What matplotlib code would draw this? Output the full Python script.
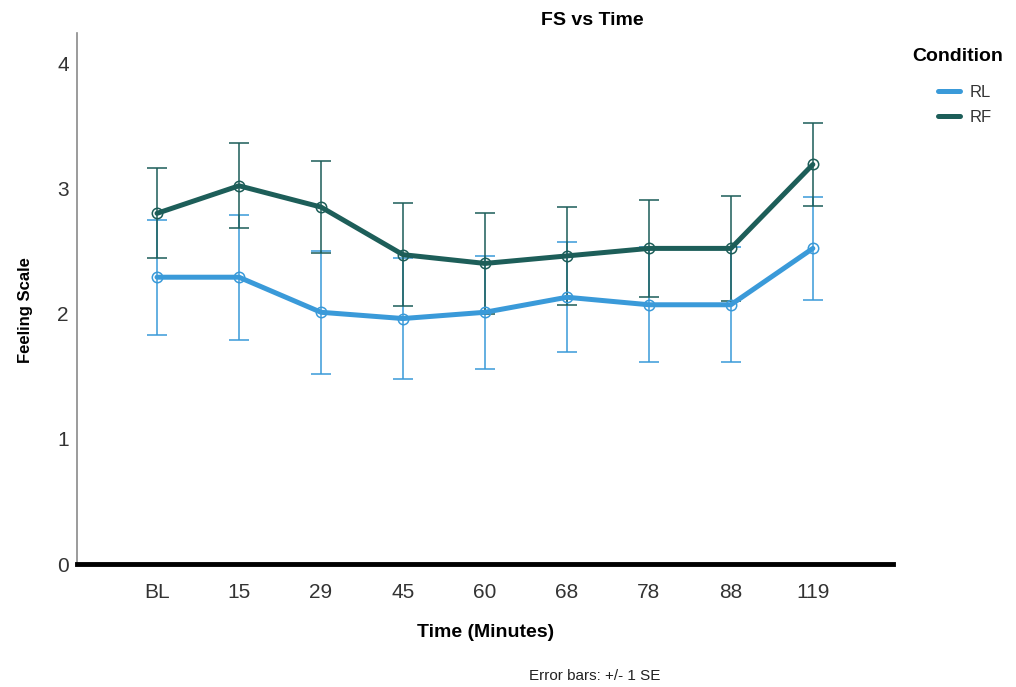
import numpy as np
import matplotlib
matplotlib.use("Agg")
from matplotlib import pyplot as plt

plt.rcParams['font.family'] = ['Liberation Sans', 'DejaVu Sans']

# time points and condition means / standard errors
time_labels = ['BL', '15', '29', '45', '60', '68', '78', '88', '119']
rl_mean = [2.29, 2.29, 2.01, 1.96, 2.01, 2.13, 2.07, 2.07, 2.52]
rl_se = [0.46, 0.50, 0.49, 0.48, 0.45, 0.44, 0.46, 0.46, 0.41]
rf_mean = [2.80, 3.02, 2.85, 2.47, 2.40, 2.46, 2.52, 2.52, 3.19]
rf_se = [0.36, 0.34, 0.37, 0.41, 0.40, 0.39, 0.39, 0.42, 0.33]

RL_COLOR = '#3a9ad9'
RF_COLOR = '#1d5e59'

x = np.arange(len(time_labels))

fig = plt.figure(figsize=(10.16, 6.87), dpi=100)
ax = fig.add_axes([0.0758, 0.179, 0.803, 0.773])

for mean, se, color, label in [(rl_mean, rl_se, RL_COLOR, 'RL'),
                                (rf_mean, rf_se, RF_COLOR, 'RF')]:
    ax.errorbar(x, mean, yerr=se, fmt='none', ecolor=color, elinewidth=1.3,
                capsize=7.2, capthick=1.3, alpha=0.85, zorder=2)
    ax.plot(x, mean, color=color, linewidth=3.6, label=label, zorder=3,
            solid_capstyle='round')
    ax.plot(x, mean, linestyle='none', marker='o', markersize=7.5,
            markerfacecolor='none', markeredgecolor=color, markeredgewidth=1.1,
            zorder=4)

ax.set_xlim(-0.976, 8.976)
ax.set_ylim(0, 4.24)
ax.set_yticks([0, 1, 2, 3, 4])
ax.set_xticks(x)
ax.set_xticklabels(time_labels)
ax.tick_params(axis='both', length=0, labelsize=15, labelcolor='#333333')
ax.tick_params(axis='x', pad=14)
ax.tick_params(axis='y', pad=6)

for side in ['top', 'right']:
    ax.spines[side].set_visible(False)
ax.spines['left'].set_color('#8a8a8a')
ax.spines['left'].set_linewidth(1.2)
ax.spines['bottom'].set_color('black')
ax.spines['bottom'].set_linewidth(3.5)

fig.text(0.583, 0.970, 'FS vs Time', ha='center', va='center',
         fontsize=14, fontweight='bold')
fig.text(0.025, 0.549, 'Feeling Scale', ha='center', va='center',
         rotation=90, fontsize=12, fontweight='bold')
fig.text(0.478, 0.079, 'Time (Minutes)', ha='center', va='center',
         fontsize=14, fontweight='bold')
fig.text(0.585, 0.016, 'Error bars: +/- 1 SE', ha='center', va='center',
         fontsize=11, color='#222222')

# legend: title as separate text, entries below it
fig.text(0.943, 0.918, 'Condition', ha='center', va='center',
         fontsize=14, fontweight='bold')
leg = fig.legend(loc='upper left', bbox_to_anchor=(0.915, 0.888),
                 frameon=False, fontsize=12, borderpad=0,
                 handlelength=1.35, handletextpad=0.55, labelspacing=0.58)
for t in leg.get_texts():
    t.set_color('#333333')

fig.savefig('out.png', dpi=100)
